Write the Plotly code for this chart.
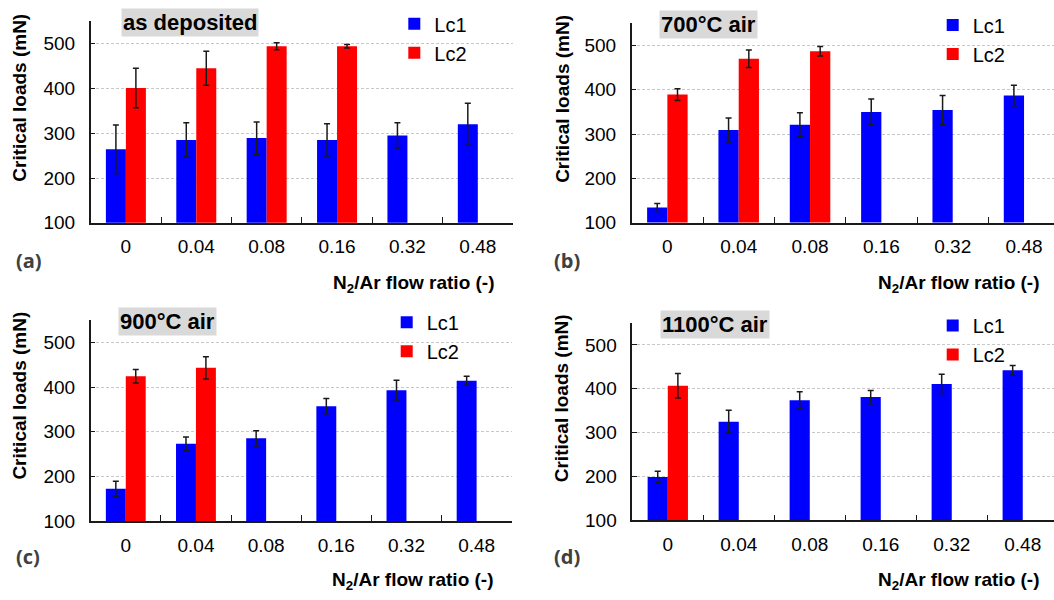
import plotly.graph_objects as go

categories = ["0", "0.04", "0.08", "0.16", "0.32", "0.48"]

# (a) as deposited
a_lc1 = [264, 285, 289, 285, 295, 320]
a_lc1_err = [54, 38, 36, 36, 28, 47]
a_lc2 = [401, 445, 494, 494, None, None]
a_lc2_err = [44, 38, 8, 4, None, None]

# (b) 700°C air
b_lc1 = [134, 309, 321, 350, 354, 387]
b_lc1_err = [9, 27, 27, 29, 33, 23]
b_lc2 = [389, 470, 487, None, None, None]
b_lc2_err = [13, 20, 11, None, None, None]

# (c) 900°C air
c_lc1 = [172, 273, 285, 357, 393, 414]
c_lc1_err = [17, 15, 17, 17, 22, 10]
c_lc2 = [424, 443, None, None, None, None]
c_lc2_err = [15, 25, None, None, None, None]

# (d) 1100°C air
d_lc1 = [199, 325, 374, 381, 411, 442]
d_lc1_err = [13, 26, 19, 15, 22, 11]
d_lc2 = [407, None, None, None, None, None]
d_lc2_err = [28, None, None, None, None, None]

panel_titles = ["as deposited", "700°C air", "900°C air", "1100°C air"]
panel_labels = ["(a)", "(b)", "(c)", "(d)"]
series_names = ["Lc1", "Lc2"]
y_ticks = [100, 200, 300, 400, 500]

W, H = 1054, 600
FONT = "Liberation Sans, Arial, sans-serif"
BLUE = "#0000FF"
RED = "#FF0000"

panels = [
    dict(lc1=a_lc1, e1=a_lc1_err, lc2=a_lc2, e2=a_lc2_err,
         x0=90.7, x1=513, ytop=21.5, ybot=227, xmax=5.5,
         box=(190, 23.3), ytitle=(20, 99.5), xtitle=(497, 289),
         lab=(28.5, 265), leg=(428.3, 24.3)),
    dict(lc1=b_lc1, e1=b_lc1_err, lc2=b_lc2, e2=b_lc2_err,
         x0=631.7, x1=1054, ytop=23.8, ybot=226.7, xmax=5.42,
         box=(708.7, 25), ytitle=(561.7, 101), xtitle=(1041.7, 289),
         lab=(566.5, 265), leg=(966.7, 25.7)),
    dict(lc1=c_lc1, e1=c_lc1_err, lc2=c_lc2, e2=c_lc2_err,
         x0=90.7, x1=511.7, ytop=326, ybot=530.7, xmax=5.5,
         box=(167, 328), ytitle=(20, 403), xtitle=(496, 592),
         lab=(27.5, 566.7), leg=(420.7, 328.3)),
    dict(lc1=d_lc1, e1=d_lc1_err, lc2=d_lc2, e2=d_lc2_err,
         x0=632.3, x1=1054, ytop=329, ybot=530, xmax=5.44,
         box=(715, 331), ytitle=(561.7, 406), xtitle=(1041.7, 592),
         lab=(566.5, 566.7), leg=(966.7, 331.7)),
]


def px(x):
    return x / W


def py(y):
    return 1 - y / H


fig = go.Figure()
layout = dict(
    width=W, height=H,
    margin=dict(l=0, r=0, t=0, b=0),
    paper_bgcolor="white", plot_bgcolor="white",
    barmode="group", bargap=0.432, bargroupgap=0,
    font=dict(family=FONT, size=19, color="black"),
    showlegend=True,
)
annotations = []

for i, p in enumerate(panels):
    n = "" if i == 0 else str(i + 1)
    xa, ya = "x" + n, "y" + n
    legname = "legend" + n
    for name, vals, errs, col in [(series_names[0], p["lc1"], p["e1"], BLUE),
                                  (series_names[1], p["lc2"], p["e2"], RED)]:
        fig.add_trace(go.Bar(
            x=categories, y=vals, name=name,
            marker=dict(color=col, line=dict(width=0)),
            error_y=dict(type="data", array=errs, visible=True,
                         color="#1a1a1a", thickness=1.5, width=3),
            xaxis=xa, yaxis=ya, legend=legname, legendgroup=name + n,
        ))
    layout["xaxis" + n] = dict(
        domain=[px(p["x0"]), px(p["x1"])], anchor=ya,
        type="category", range=[-0.5, p["xmax"]],
        showline=True, linecolor="#1a1a1a", linewidth=1.5,
        ticks="inside", ticklen=6, tickwidth=1.2, tickcolor="#1a1a1a",
        tickson="boundaries", showgrid=False,
        tickfont=dict(size=19, family=FONT, color="black"),
        ticklabelstandoff=6,
    )
    layout["yaxis" + n] = dict(
        domain=[py(p["ybot"]), py(p["ytop"])], anchor=xa,
        range=[100, 550], tickvals=y_ticks,
        showline=True, linecolor="#1a1a1a", linewidth=1.5,
        ticks="inside", ticklen=5, tickwidth=1.2, tickcolor="#1a1a1a",
        showgrid=True, gridcolor="#c8c8c8", gridwidth=1, griddash="3px,2px",
        zeroline=False,
        tickfont=dict(size=19, family=FONT, color="black"),
        ticklabelstandoff=10,
    )
    layout[legname] = dict(
        x=px(p["leg"][0] - 34), y=py(p["leg"][1] - 20),
        xanchor="left", yanchor="top",
        bgcolor="rgba(0,0,0,0)", borderwidth=0,
        font=dict(size=20, family=FONT, color="black"),
        tracegroupgap=0, traceorder="grouped",
    )
    annotations.append(dict(
        text="<b>" + panel_titles[i] + "</b>", xref="paper", yref="paper",
        x=px(p["box"][0]), y=py(p["box"][1]), xanchor="center", yanchor="middle",
        showarrow=False, bgcolor="#d9d9d9", borderpad=1,
        font=dict(size=22, family=FONT, color="black"),
    ))
    annotations.append(dict(
        text="<b>Critical loads (mN)</b>", xref="paper", yref="paper",
        x=px(p["ytitle"][0]), y=py(p["ytitle"][1]), xanchor="center", yanchor="middle",
        textangle=-90, showarrow=False,
        font=dict(size=19, family=FONT, color="black"),
    ))
    annotations.append(dict(
        text="<b>N<sub>2</sub>/Ar flow ratio (-)</b>", xref="paper", yref="paper",
        x=px(p["xtitle"][0]), y=py(p["xtitle"][1]), xanchor="right", yanchor="middle",
        showarrow=False,
        font=dict(size=19, family=FONT, color="black"),
    ))
    annotations.append(dict(
        text="<b>" + panel_labels[i] + "</b>", xref="paper", yref="paper",
        x=px(p["lab"][0]), y=py(p["lab"][1]), xanchor="center", yanchor="middle",
        showarrow=False,
        font=dict(size=20, family="Open Sans, sans-serif", color="#404040",
                  weight="bold"),
    ))

layout["annotations"] = annotations
fig.update_layout(**layout)
fig.write_html("out.html")
